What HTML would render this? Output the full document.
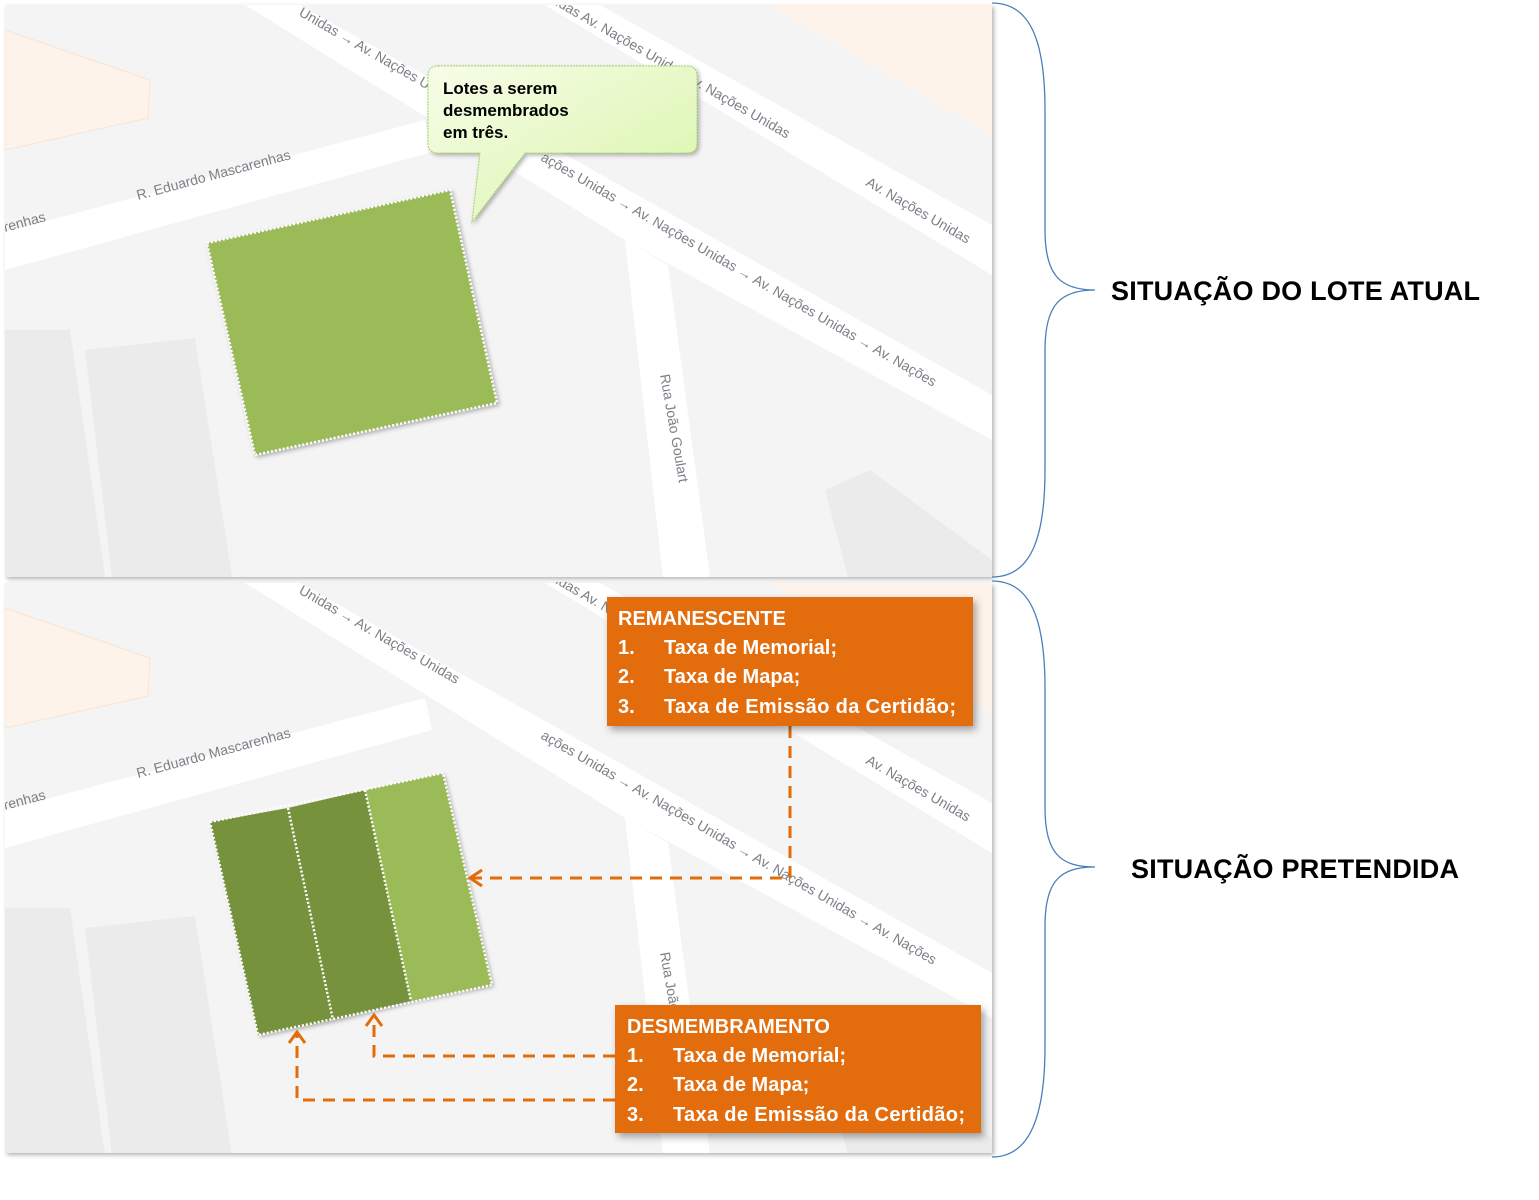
<!DOCTYPE html>
<html><head><meta charset="utf-8"><style>
html,body{margin:0;padding:0;background:#fff;width:1539px;height:1200px;overflow:hidden}
svg{display:block}
.st{font-family:"Liberation Sans",sans-serif;font-size:14px;fill:#7b7f86}
.ob{font-family:"Liberation Sans",sans-serif;font-weight:bold;font-size:20px;fill:#fff}
.lb{font-family:"Liberation Sans",sans-serif;font-weight:bold;font-size:27px;fill:#000}
</style></head><body>
<svg width="1539" height="1200" viewBox="0 0 1539 1200" xmlns="http://www.w3.org/2000/svg">
<defs>
<filter id="sh" x="-10%" y="-10%" width="130%" height="130%"><feDropShadow dx="3" dy="4" stdDeviation="4" flood-color="#000" flood-opacity="0.35"/></filter>
<filter id="sh2" x="-10%" y="-10%" width="130%" height="130%"><feDropShadow dx="2" dy="2" stdDeviation="2" flood-color="#000" flood-opacity="0.3"/></filter>
<linearGradient id="cg" x1="0" y1="0" x2="1" y2="1"><stop offset="0" stop-color="#f7fde8"/><stop offset="1" stop-color="#d8f5a8"/></linearGradient>
<clipPath id="c1"><rect x="5" y="5" width="987" height="572"/></clipPath>
<clipPath id="c2"><rect x="5" y="582" width="987" height="571"/></clipPath>
<g id="map">
<rect x="5" y="5" width="987" height="572" fill="#f4f4f4"/>
<polygon points="5,30 150,80 148,118 5,150" fill="#fdf3ea" stroke="#f8e4d2"/>
<polygon points="770,5 992,5 992,135" fill="#fdf3ea"/>
<polygon points="5,330 70,330 105,577 5,577" fill="#ebebeb"/>
<polygon points="85,350 195,338 232,577 112,577" fill="#ebebeb"/>
<polygon points="825,490 870,470 992,560 992,577 848,577" fill="#ebebeb"/>
<!-- roads -->
<polygon points="5,232 425,120 432,152 5,270" fill="#fff"/>
<polygon points="245,5 300,5 992,395 992,440 625,240" fill="#fff"/>
<polygon points="545,5 600,5 992,225 992,275" fill="#fff"/>
<polygon points="625,240 668,265 710,577 663,577" fill="#fff"/>
<text class="st" transform="translate(138,200) rotate(-15)">R. Eduardo Mascarenhas</text>
<text class="st" transform="translate(5,232) rotate(-15)">renhas</text>
<text class="st" transform="translate(298,15) rotate(30)">Unidas →  Av. Nações Unidas</text>
<text class="st" transform="translate(540,160) rotate(30)">ações Unidas →  Av. Nações Unidas →  Av. Nações Unidas →  Av. Nações</text>
<text class="st" transform="translate(555,5) rotate(30)">idas   Av. Nações Unidas   Av. Nações Unidas</text>
<text class="st" transform="translate(865,185) rotate(30)">Av. Nações Unidas</text>
<text class="st" transform="translate(660,375) rotate(80)">Rua João Goulart</text>
</g>
</defs>
<!-- top panel -->
<g filter="url(#sh2)"><g clip-path="url(#c1)"><use href="#map"/></g></g>
<!-- bottom panel -->
<g filter="url(#sh2)"><g clip-path="url(#c2)"><use href="#map" transform="translate(0,578)"/></g></g>

<!-- top lot -->
<polygon points="207,243 450,190 497,403 255,455" fill="#9bbb59" stroke="#fff" stroke-width="2.5" stroke-dasharray="2,2" filter="url(#sh2)"/>
<!-- callout -->
<path d="M438,66 H687 Q697,66 697,76 V143 Q697,153 687,153 H525 L472,222 L480,153 H438 Q428,153 428,143 V76 Q428,66 438,66 Z" fill="url(#cg)" stroke="#a6d36a" stroke-width="1" stroke-dasharray="2,1" filter="url(#sh2)"/>
<text font-family="Liberation Sans,sans-serif" font-weight="bold" font-size="17" fill="#000"><tspan x="443" y="94">Lotes a serem</tspan><tspan x="443" y="116">desmembrados</tspan><tspan x="443" y="138">em três.</tspan></text>

<!-- bottom lots -->
<g filter="url(#sh2)">
<polygon points="210,822 288,808 333,1020 258,1035" fill="#76923c"/>
<polygon points="288,808 365,790 411,1001 333,1020" fill="#76923c"/>
<polygon points="365,790 443,773 492,985 411,1001" fill="#9bbb59"/>
</g>
<g fill="none" stroke="#fff" stroke-width="2.5" stroke-dasharray="2,2">
<polygon points="210,822 443,773 492,985 258,1035"/>
<line x1="288" y1="808" x2="333" y2="1020"/>
<line x1="365" y1="790" x2="411" y2="1001"/>
</g>

<!-- connectors -->
<g fill="none" stroke="#e36c09" stroke-width="3" stroke-dasharray="12,8">
<polyline points="790,726 790,878 472,878"/>
<polyline points="615,1056 374,1056 374,1016"/>
<polyline points="615,1100 297,1100 297,1033"/>
</g>
<g fill="none" stroke="#e36c09" stroke-width="3">
<polyline points="482,870 470,878 482,886"/>
<polyline points="366,1026 374,1015 382,1026"/>
<polyline points="289,1043 297,1032 305,1043"/>
</g>

<!-- orange boxes -->
<rect x="607" y="597" width="366" height="129" fill="#e36c09" filter="url(#sh)"/>
<g class="ob"><text x="618" y="625">REMANESCENTE</text>
<text x="618" y="654">1.</text><text x="664" y="654">Taxa de Memorial;</text>
<text x="618" y="683">2.</text><text x="664" y="683">Taxa de Mapa;</text>
<text x="618" y="713">3.</text><text x="664" y="713" textLength="292">Taxa de Emissão da Certidão;</text></g>
<rect x="615" y="1005" width="366" height="128" fill="#e36c09" filter="url(#sh)"/>
<g class="ob"><text x="627" y="1033">DESMEMBRAMENTO</text>
<text x="627" y="1062">1.</text><text x="673" y="1062">Taxa de Memorial;</text>
<text x="627" y="1091">2.</text><text x="673" y="1091">Taxa de Mapa;</text>
<text x="627" y="1121">3.</text><text x="673" y="1121" textLength="292">Taxa de Emissão da Certidão;</text></g>

<!-- braces -->
<g fill="none" stroke="#4a7ebb" stroke-width="1.3">
<path d="M992,3 C1030,3 1045,40 1045,110 L1045,230 C1045,275 1060,290 1095,290 C1060,290 1045,305 1045,350 L1045,470 C1045,540 1030,577 992,577"/>
<path d="M992,581 C1030,581 1045,618 1045,688 L1045,808 C1045,853 1060,867 1095,867 C1060,867 1045,881 1045,926 L1045,1046 C1045,1116 1030,1157 992,1157"/>
</g>
<text class="lb" x="1111" y="300" textLength="369">SITUAÇÃO DO LOTE ATUAL</text>
<text class="lb" x="1131" y="878" textLength="328">SITUAÇÃO PRETENDIDA</text>
</svg>
</body></html>
